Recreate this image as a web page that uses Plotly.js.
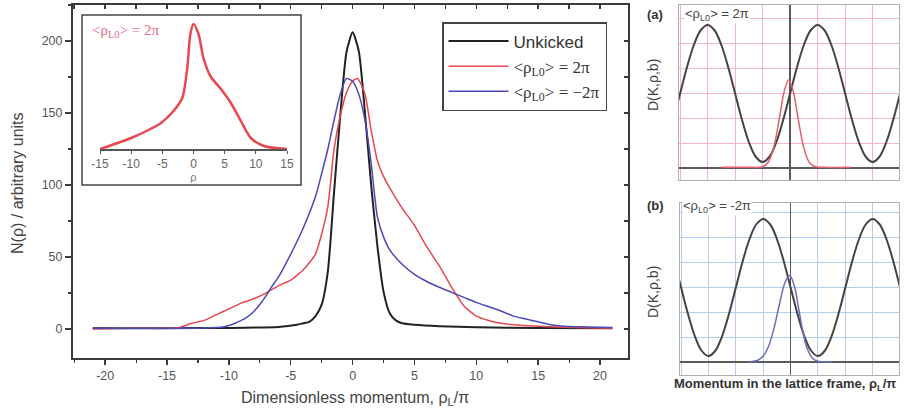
<!DOCTYPE html>
<html>
<head>
<meta charset="utf-8">
<script src="https://cdn.plot.ly/plotly-3.0.1.min.js"></script>
<style>html,body{margin:0;padding:0;background:#fff;}#chart{width:904px;height:412px;}</style>
</head>
<body>
<div id="chart"></div>
<script>
// ---- Main plot data ----
const blackX = [-21,-15,-10,-6,-4.5,-4,-3.5,-3,-2.5,-2,-1.5,-1,-0.5,0,0.5,1,1.5,2,2.5,3,3.5,4,5,7,10,15,21];
const blackY = [0.5,0.6,0.8,1.5,3,4,5,9,17,40,95,148,192,206,193,150,100,58,26,11,6,4,3,2,1.2,0.8,0.5];

const redX = [-21,-18,-15,-14,-13,-12,-11,-10,-9,-8,-7,-6,-5,-4.4,-4,-3.5,-3,-2.5,-2,-1.5,-1,-0.5,0,0.4,1,1.5,2,2.5,3,4,5,6,7,8,9,10,11,12,13,15,18,21];
const redY = [0,0.5,0.5,1,4,6,10,14,18,21,25,30,34,38,41,46,52,66,85,125,148,164,172,174,163,138,117,106,98,84,72,57,44,29,16,9,6,4,3,2,1,0.5];

const blueX = [-21,-15,-12,-10.5,-10,-9.5,-9,-8.5,-8,-7.5,-7,-6.5,-6,-5,-4,-3,-2.5,-2,-1.5,-1,-0.5,0,0.5,1,1.5,2,2.5,3,4,5,6,7,8,9,10,11,12,13,14,15,16,17,19,21];
const blueY = [0.5,0.5,0.8,1.5,2.5,4,6,8.5,12,17,23,30,36,52,70,92,108,125,145,163,174,172,163,145,115,78,64,55,45,38,33,29,25.5,22,18.5,15.5,12.5,9,7,5,3,2,1.5,1];

// ---- Inset ----
const insetX = [-15,-10,-6.9,-5.2,-3.2,-1.8,-1,-0.5,0,0.8,1.6,2.7,4.4,6,7.6,9.2,11.3,15];
const insetY = [0,11,20,26,38,51,81,115,125,115,91,73,60,46,28,11,3,0];

// ---- Right panels ----
const panelX  = [-4.25,-4,-3.75,-3.5,-3.25,-3,-2.75,-2.5,-2.25,-2,-1.75,-1.5,-1.25,-1,-0.75,-0.5,-0.25,0,0.25,0.5,0.75,1,1.25,1.5,1.75,2,2.25,2.5,2.75,3,3.25,3.5,3.75,4,4.25];
const panelAY = [1.93,2.98,4.03,4.92,5.51,5.72,5.51,4.92,4.03,2.98,1.93,1.04,0.45,0.24,0.45,1.04,1.93,2.98,4.03,4.92,5.51,5.72,5.51,4.92,4.03,2.98,1.93,1.04,0.45,0.24,0.45,1.04,1.93,2.98,4.03];
const panelBY = [4.03,2.98,1.93,1.04,0.45,0.24,0.45,1.04,1.93,2.98,4.03,4.92,5.51,5.72,5.51,4.92,4.03,2.98,1.93,1.04,0.45,0.24,0.45,1.04,1.93,2.98,4.03,4.92,5.51,5.72,5.51,4.92,4.03,2.98,1.93];
const redGX = [-2.5,-1.5,-1.0,-0.8,-0.6,-0.4,-0.2,-0.05,0.1,0.3,0.5,0.7,0.9,1.2,2.2];
const redGY = [0.03,0.03,0.05,0.22,0.8,1.92,3.13,3.52,3.13,1.92,0.8,0.22,0.06,0.03,0.03];
const blueGX = [-1.5,-1.2,-1.0,-0.8,-0.6,-0.4,-0.2,-0.03,0.15,0.3,0.45,0.6,0.8,1.0,1.5];
const blueGY = [0.01,0.07,0.24,0.64,1.38,2.35,3.19,3.46,2.98,2.1,1.2,0.56,0.15,0.03,0.01];

// ---- Tick labels ----
const mainXTicks = [-20,-15,-10,-5,0,5,10,15,20];
const mainXTickText = ['-20','-15','-10','-5','0','5','10','15','20'];
const mainYTicks = [0,50,100,150,200];
const mainYTickText = ['0','50','100','150','200'];
const insetXTicks = [-15,-10,-5,0,5,10,15];
const insetXTickText = ['-15','-10','-5','0','5','10','15'];

const W = 904, H = 412;
const px = v => v / W;
const py = v => (H - v) / H;

const SERIF = 'Times New Roman, Liberation Serif, DejaVu Serif, serif';
const serifSpan = s => '<span style="font-family:Times New Roman,Liberation Serif,serif">' + s + '</span>';

const traces = [
  {x: blackX, y: blackY, type: 'scatter', mode: 'lines', name: 'Unkicked',
   line: {color: '#222222', width: 2, shape: 'spline', smoothing: 0.6}, xaxis: 'x', yaxis: 'y'},
  {x: redX, y: redY, type: 'scatter', mode: 'lines', name: serifSpan('&lt;ρ<sub>L0</sub>&gt; = 2π'),
   line: {color: '#e8474f', width: 1.5, shape: 'spline', smoothing: 0.6}, xaxis: 'x', yaxis: 'y'},
  {x: blueX, y: blueY, type: 'scatter', mode: 'lines', name: serifSpan('&lt;ρ<sub>L0</sub>&gt; = −2π'),
   line: {color: '#4a4ab8', width: 1.5, shape: 'spline', smoothing: 0.6}, xaxis: 'x', yaxis: 'y'},
  {x: insetX, y: insetY, type: 'scatter', mode: 'lines', showlegend: false,
   line: {color: '#e8474f', width: 2.5, shape: 'spline', smoothing: 0.8}, xaxis: 'x3', yaxis: 'y3'},
  {x: panelX, y: panelAY, type: 'scatter', mode: 'lines', showlegend: false,
   line: {color: '#444444', width: 2, shape: 'spline'}, xaxis: 'x4', yaxis: 'y4'},
  {x: redGX, y: redGY, type: 'scatter', mode: 'lines', showlegend: false,
   line: {color: '#e4606c', width: 1.5, shape: 'spline'}, xaxis: 'x4', yaxis: 'y4'},
  {x: panelX, y: panelBY, type: 'scatter', mode: 'lines', showlegend: false,
   line: {color: '#444444', width: 2, shape: 'spline'}, xaxis: 'x5', yaxis: 'y5'},
  {x: blueGX, y: blueGY, type: 'scatter', mode: 'lines', showlegend: false,
   line: {color: '#6a70b8', width: 1.5, shape: 'spline'}, xaxis: 'x5', yaxis: 'y5'},
  {x: [], y: [], type: 'scatter', mode: 'lines', showlegend: false, xaxis: 'x2', yaxis: 'y'},
  {x: [], y: [], type: 'scatter', mode: 'lines', showlegend: false, xaxis: 'x', yaxis: 'y2'}
];

const tickFont = {family: 'Liberation Sans, Arial, sans-serif', size: 12.5, color: '#555555'};
const frameCol = '#3a3a3a';

const panelAxis = (dom, rng, gridc) => ({
  domain: dom, range: rng, showgrid: true, gridcolor: gridc, gridwidth: 1, dtick: 1, tick0: 0,
  zeroline: true, zerolinecolor: '#5a5a5a', zerolinewidth: 1.2,
  showline: true, mirror: true, linecolor: '#b0b0b0', linewidth: 1,
  showticklabels: false, ticks: '', fixedrange: true
});

const layout = {
  width: W, height: H, autosize: false,
  margin: {l: 0, r: 0, t: 0, b: 0},
  paper_bgcolor: '#ffffff', plot_bgcolor: '#ffffff',
  font: {family: 'Liberation Sans, Arial, sans-serif', color: '#444444'},
  showlegend: true,
  legend: {
    x: px(442), y: py(22), xanchor: 'left', yanchor: 'top',
    bgcolor: '#ffffff', bordercolor: '#444444', borderwidth: 1.5,
    font: {family: 'Liberation Sans, Arial, sans-serif', size: 17, color: '#333333'},
    itemwidth: 60, tracegroupgap: 2
  },
  xaxis: {
    domain: [px(73), px(628)], range: [-22.6, 22.26], anchor: 'y',
    tickmode: 'array', tickvals: mainXTicks, ticktext: mainXTickText,
    ticks: 'outside', ticklen: 5, tickwidth: 1.5, tickcolor: frameCol,
    minor: {tickmode: 'linear', tick0: 0, dtick: 2.5, ticks: 'outside', ticklen: 3, tickwidth: 1.2, tickcolor: frameCol},
    showline: true, linecolor: frameCol, linewidth: 2, zeroline: false, showgrid: false,
    tickfont: tickFont
  },
  yaxis: {
    domain: [py(358), py(5)], range: [-20.1, 225], anchor: 'x',
    tickmode: 'array', tickvals: mainYTicks, ticktext: mainYTickText,
    ticks: 'outside', ticklen: 6, tickwidth: 1.5, tickcolor: frameCol,
    minor: {tickmode: 'linear', tick0: 0, dtick: 25, ticks: 'outside', ticklen: 3, tickwidth: 1.2, tickcolor: frameCol},
    showline: true, linecolor: frameCol, linewidth: 2, zeroline: false, showgrid: false,
    tickfont: tickFont
  },
  xaxis2: {
    overlaying: 'x', matches: 'x', side: 'top', anchor: 'y',
    showline: true, linecolor: frameCol, linewidth: 2,
    ticks: 'inside', dtick: 2.5, tick0: 0, ticklen: 4, tickwidth: 1.5, tickcolor: frameCol,
    showticklabels: false, showgrid: false, zeroline: false
  },
  yaxis2: {
    overlaying: 'y', matches: 'y', side: 'right', anchor: 'x',
    showline: true, linecolor: frameCol, linewidth: 2,
    ticks: 'inside', dtick: 25, tick0: 0, ticklen: 4, tickwidth: 1.5, tickcolor: frameCol,
    showticklabels: false, showgrid: false, zeroline: false
  },
  xaxis3: {
    domain: [px(100), px(287)], range: [-15, 15], anchor: 'y3',
    tickmode: 'array', tickvals: insetXTicks, ticktext: insetXTickText,
    ticks: 'outside', ticklen: 3, tickcolor: '#555555',
    showline: true, linecolor: '#555555', linewidth: 1.5, zeroline: false, showgrid: false,
    tickfont: {family: 'Liberation Sans, Arial, sans-serif', size: 12, color: '#666666'},
    title: {text: 'ρ', font: {size: 11, color: '#777777'}, standoff: 0}
  },
  yaxis3: {domain: [py(149), py(19)], range: [0, 130], anchor: 'x3', visible: false},
  xaxis4: Object.assign(panelAxis([px(679), px(899)], [-4.04, 3.96], '#f2b6d0'), {anchor: 'y4'}),
  yaxis4: Object.assign(panelAxis([py(180), py(5)], [-0.48, 6.52], '#f2b6d0'), {anchor: 'x4'}),
  xaxis5: Object.assign(panelAxis([px(680), px(899)], [-4.04, 3.96], '#b4cdee'), {anchor: 'y5'}),
  yaxis5: Object.assign(panelAxis([py(375), py(203)], [-0.52, 6.36], '#b4cdee'), {anchor: 'x5'}),
  shapes: [
    {type: 'rect', xref: 'paper', yref: 'paper', x0: px(82), x1: px(301), y0: py(185), y1: py(15),
     line: {color: '#444444', width: 1.5}, fillcolor: '#ffffff', layer: 'below'}
  ],
  annotations: [
    {xref: 'paper', yref: 'paper', x: px(17), y: py(183), text: 'N(ρ) / arbitrary units', textangle: -90,
     showarrow: false, xanchor: 'center', yanchor: 'middle', font: {size: 16, color: '#444444'}},
    {xref: 'paper', yref: 'paper', x: px(355), y: py(398), text: 'Dimensionless momentum, ρ<sub>L</sub>/π',
     showarrow: false, xanchor: 'center', yanchor: 'middle', font: {size: 16, color: '#444444'}},
    {xref: 'paper', yref: 'paper', x: px(90), y: py(31), text: '&lt;ρ<sub>L0</sub>&gt; = 2π',
     showarrow: false, xanchor: 'left', yanchor: 'middle',
     font: {family: SERIF, size: 15, color: '#ec6a80'}},
    {xref: 'paper', yref: 'paper', x: px(655), y: py(15), text: '<b>(a)</b>',
     showarrow: false, xanchor: 'center', yanchor: 'middle', font: {size: 13, color: '#333333'}},
    {xref: 'paper', yref: 'paper', x: px(655), y: py(205), text: '<b>(b)</b>',
     showarrow: false, xanchor: 'center', yanchor: 'middle', font: {size: 13, color: '#333333'}},
    {xref: 'paper', yref: 'paper', x: px(653), y: py(85), text: 'D(K,ρ,b)', textangle: -90,
     showarrow: false, xanchor: 'center', yanchor: 'middle', font: {size: 14, color: '#444444'}},
    {xref: 'paper', yref: 'paper', x: px(653), y: py(292), text: 'D(K,ρ,b)', textangle: -90,
     showarrow: false, xanchor: 'center', yanchor: 'middle', font: {size: 14, color: '#444444'}},
    {xref: 'paper', yref: 'paper', x: px(684), y: py(15), text: '&lt;ρ<sub>L0</sub>&gt; = 2π',
     showarrow: false, xanchor: 'left', yanchor: 'middle', bgcolor: '#ffffff', borderpad: 0,
     font: {size: 13, color: '#444444'}},
    {xref: 'paper', yref: 'paper', x: px(682), y: py(206), text: '&lt;ρ<sub>L0</sub>&gt; = -2π',
     showarrow: false, xanchor: 'left', yanchor: 'middle', bgcolor: '#ffffff', borderpad: 0,
     font: {size: 13, color: '#444444'}},
    {xref: 'paper', yref: 'paper', x: px(672), y: py(384), text: '<b>Momentum in the lattice frame, ρ<sub>L</sub>/π</b>',
     showarrow: false, xanchor: 'left', yanchor: 'middle', font: {size: 13, color: '#333333'}}
  ]
};

Plotly.newPlot('chart', traces, layout, {displayModeBar: false, staticPlot: true});
</script>
</body>
</html>
